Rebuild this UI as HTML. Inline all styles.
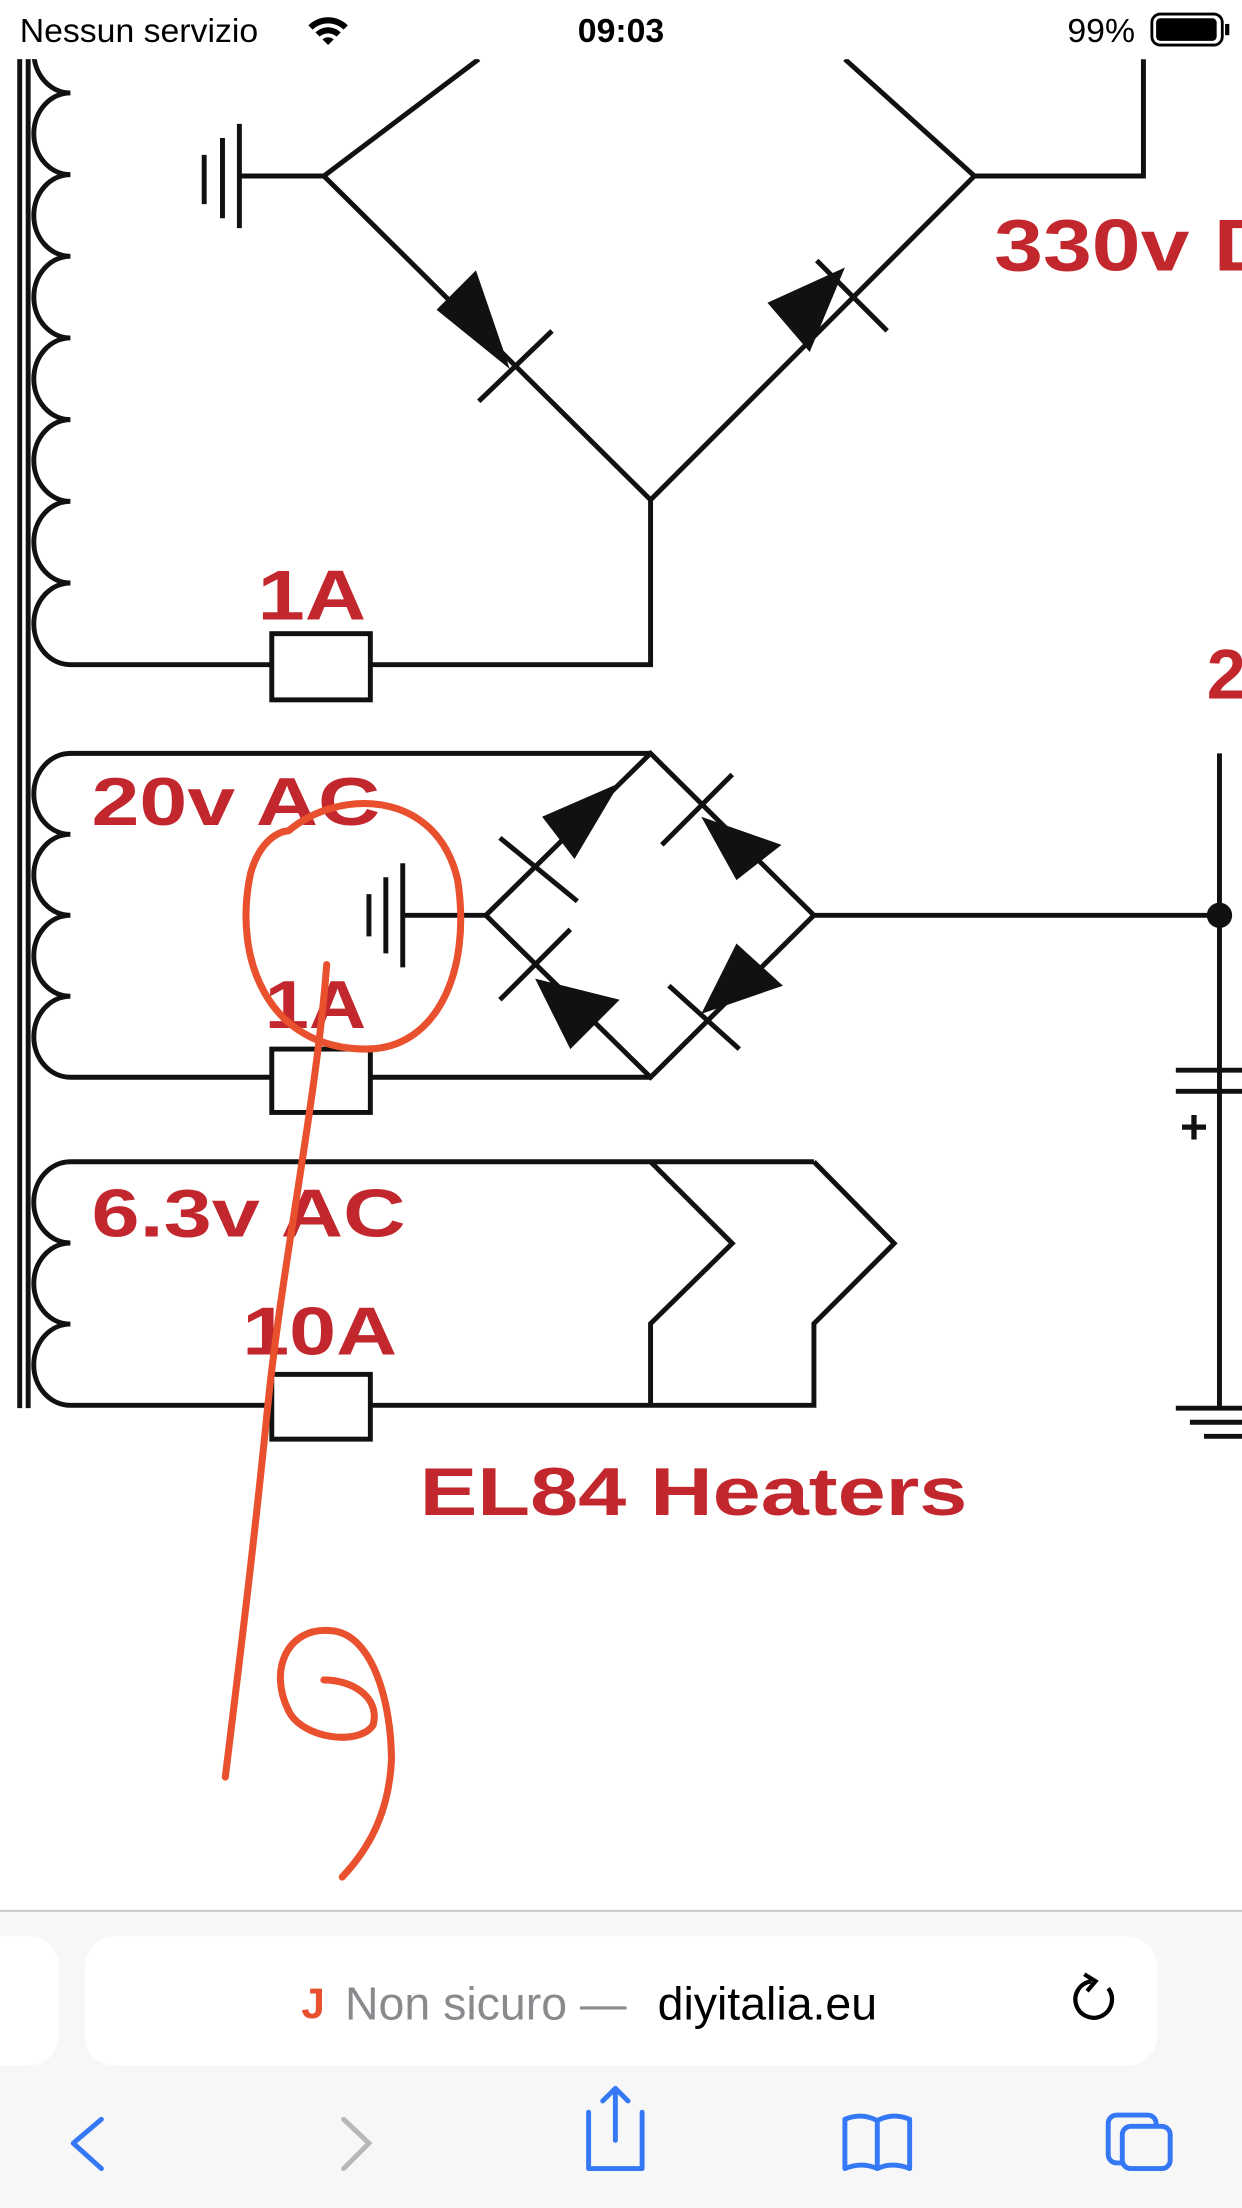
<!DOCTYPE html>
<html><head><meta charset="utf-8">
<style>
html,body{margin:0;padding:0;background:#fff;}
svg{display:block;}
</style></head>
<body>
<svg width="1242" height="2208" viewBox="0 0 882 1568" xmlns="http://www.w3.org/2000/svg" font-family="Liberation Sans, sans-serif">
<rect width="882" height="1568" fill="#fff"/>

<!-- diagram -->
<g stroke="#111" stroke-width="3.5" fill="none">
<line x1="14" y1="30" x2="14" y2="1000"/>
<line x1="20" y1="30" x2="20" y2="1000"/>
<!-- coil 1 -->
<path d="M50 8 A26 29 0 0 0 50 66 A26 29 0 0 0 50 124 A26 29 0 0 0 50 182 A26 29 0 0 0 50 240 A26 29 0 0 0 50 298 A26 29 0 0 0 50 356 A26 29 0 0 0 50 414 A26 29 0 0 0 50 472 H462 V355"/>
<!-- bridge 1 -->
<path d="M230 125 L340 42 M230 125 L462 355 L692 125 L600 42 M692 125 H812 V42"/>
<path d="M145 110 V145 M158 98 V155 M170 88 V162 M170 125 H230"/>
<!-- coil 2 -->
<path d="M462 535 H50 A26 28.75 0 0 0 50 592.5 A26 28.75 0 0 0 50 650 A26 28.75 0 0 0 50 707.5 A26 28.75 0 0 0 50 765 H462"/>
<path d="M462 535 L345 650 L462 765 L578 650 Z M578 650 H866 M866 535 V1000"/>
<path d="M262 635 V665 M274 623 V677 M286 613 V687 M286 650 H345"/>
<path d="M835 760 H882 M835 775 H882"/>
<path d="M835 1000 H882 M845 1010 H882 M855 1020 H882"/>
<!-- coil 3 -->
<path d="M578 825 H50 A26 28.8 0 0 0 50 882.7 A26 28.8 0 0 0 50 940.3 A26 28.8 0 0 0 50 998 H578 V940 L635 883 L578 825 M462 825 L520 883 L462 940 V998"/>
</g>
<g fill="#fff" stroke="#111" stroke-width="3.5">
<rect x="193" y="450" width="70" height="47"/>
<rect x="193" y="745" width="70" height="45"/>
<rect x="193" y="976" width="70" height="46"/>
</g>
<circle cx="866" cy="650" r="9" fill="#111"/>
<text x="838" y="812" font-size="34" font-weight="bold" fill="#111">+</text>
<!-- diodes -->
<g fill="#111" stroke="#111" stroke-width="3.5">
<polygon points="310,220 338,192 362,262" stroke="none"/>
<line x1="340" y1="285" x2="392" y2="235"/>
<polygon points="545,215 600,190 575,250" stroke="none"/>
<line x1="580" y1="185" x2="630" y2="235"/>
<polygon points="385,580 440,556 408,610" stroke="none"/>
<line x1="355" y1="595" x2="410" y2="640"/>
<polygon points="498,580 555,600 523,625" stroke="none"/>
<line x1="470" y1="600" x2="520" y2="550"/>
<polygon points="380,695 440,710 405,745" stroke="none"/>
<line x1="355" y1="710" x2="405" y2="660"/>
<polygon points="498,720 556,700 523,670" stroke="none"/>
<line x1="475" y1="700" x2="525" y2="745"/>
</g>
<!-- labels -->
<g fill="#c2272d" font-weight="bold" lengthAdjust="spacingAndGlyphs">
<text x="706" y="192" font-size="52" textLength="201" lengthAdjust="spacingAndGlyphs">330v D</text>
<text x="183" y="440" font-size="50" textLength="77" lengthAdjust="spacingAndGlyphs">1A</text>
<text x="857" y="496" font-size="50">2</text>
<text x="65" y="586" font-size="48" textLength="205" lengthAdjust="spacingAndGlyphs">20v AC</text>
<text x="188" y="730" font-size="48" textLength="72" lengthAdjust="spacingAndGlyphs">1A</text>
<text x="65" y="878" font-size="48" textLength="223" lengthAdjust="spacingAndGlyphs">6.3v AC</text>
<text x="172" y="962" font-size="48" textLength="110" lengthAdjust="spacingAndGlyphs">10A</text>
<text x="298" y="1076" font-size="48" textLength="389" lengthAdjust="spacingAndGlyphs">EL84 Heaters</text>
</g>
<!-- annotation -->
<g stroke="#e8502e" stroke-width="5" fill="none" stroke-linecap="round">
<path d="M205 590 C240 560 310 560 325 625 C335 690 310 745 260 745 C190 745 165 680 178 620 C185 595 200 590 205 590"/>
<path d="M232 685 C225 780 200 900 190 1000 C180 1100 170 1180 160 1262"/>
<path d="M230 1193 C250 1193 270 1205 265 1225 C255 1240 215 1235 205 1215 C190 1185 205 1155 235 1158 C265 1160 278 1210 278 1250 C276 1290 260 1315 243 1333"/>
</g>

<!-- status bar -->
<rect x="0" y="0" width="882" height="42" fill="#fff"/>
<text x="14" y="30" font-size="24" fill="#000">Nessun servizio</text>
<g fill="#000">
<path d="M219 18 a20 20 0 0 1 28 0 l-3 3 a16 16 0 0 0 -22 0z"/>
<path d="M224 23 a13 13 0 0 1 18 0 l-3 3 a9 9 0 0 0 -12 0z"/>
<path d="M229 28 a6 6 0 0 1 8 0 l-4 4z"/>
</g>
<text x="441" y="30" font-size="24" font-weight="bold" text-anchor="middle">09:03</text>
<text x="758" y="30" font-size="24">99%</text>
<rect x="818" y="10" width="50" height="22" rx="6" fill="none" stroke="#000" stroke-width="2"/>
<rect x="821" y="13" width="43" height="16" rx="3" fill="#000"/>
<rect x="870" y="17" width="3" height="8" fill="#000"/>

<!-- bottom bar -->
<rect x="0" y="1357" width="882" height="211" fill="#f7f7f7"/>
<line x1="0" y1="1357" x2="882" y2="1357" stroke="#c8c8c8" stroke-width="1.5"/>
<rect x="-30" y="1375" width="72" height="92" rx="22" fill="#fff"/>
<rect x="60" y="1375" width="762" height="92" rx="22" fill="#fff"/>
<text x="214" y="1433" font-size="30" fill="#e8502e" font-weight="bold">J</text>
<text x="245" y="1434" font-size="33" fill="#8a8a8e">Non sicuro —</text>
<text x="467" y="1434" font-size="33" fill="#000">diyitalia.eu</text>
<g stroke="#000" stroke-width="3" fill="none">
<path d="M787 1412 A13 13 0 1 1 775 1407"/>
<path d="M770 1402 L778 1407 L772 1414"/>
</g>
<g stroke="#3478f6" stroke-width="3.5" fill="none" stroke-linecap="round" stroke-linejoin="round">
<path d="M72 1505 L52 1522 L72 1540"/>
<path d="M418 1500 V1540 H456 V1500 M428 1492 L437 1483 L446 1492 M437 1483 V1520"/>
<path d="M600 1505 Q612 1500 623 1506 Q634 1500 646 1505 V1540 Q634 1535 623 1540 Q612 1535 600 1540 Z M623 1506 V1540"/>
<rect x="787" y="1502" width="34" height="34" rx="6"/>
<rect x="797" y="1510" width="34" height="30" rx="6" fill="#f7f7f7"/>
</g>
<path d="M244 1505 L262 1522 L244 1540" stroke="#b8b8b8" stroke-width="3.5" fill="none" stroke-linecap="round"/>
</svg>
</body></html>
